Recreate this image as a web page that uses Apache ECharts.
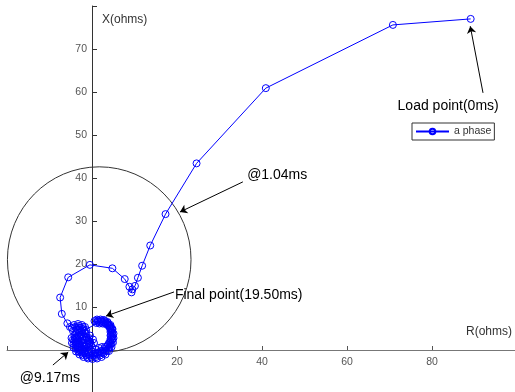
<!DOCTYPE html>
<html>
<head>
<meta charset="utf-8">
<script src="https://cdn.jsdelivr.net/npm/echarts@6/dist/echarts.min.js"></script>
<style>
  html, body { margin: 0; padding: 0; background: #fff; }
  #main { width: 515px; height: 392px; }
</style>
</head>
<body>
<div id="main"></div>
<script>
// impedance trajectory, a phase (R, X in ohms)
var resistance = [
  // load point down to the circle
  89.1, 70.8, 40.9, 24.6, 17.3, 13.7, 11.8, 10.8, 10.1, 9.5, 9.3, 8.8, 7.7, 4.8, -0.5, -5.6, -7.5, -7.1, -5.8,
  // small curl
  -5.18, -4.24, -3.29, -2.35, -1.65, -1.41, -1.65, -2.35, -3.06, -3.29, -2.82, -2.12,
  -1.88, -2.59, -3.53, -4.0, -4.71, -3.06, -2.12,
  // inner loop
  -1.41, -1.88, -1.18, -0.47, -0.71, 0.24, 0.47, -0.47, -0.71, 0, -0.94, -0.94,
  -1.41, -1.65, -2.12, -2.35, -3.29, -3.06, -2.59, -2.82, -3.76, -3.76, -4.12,
  -4.47, -3.76, -3.06, -2.35, -1.65, -0.94, -0.24, -1.18, -1.88, -2.82, -3.29, -2.59, -1.41, -0.71, -2.12,
  // first lap of the ring
  -4.47, -4.0, -4.35, -3.88, -3.88, -3.53, -3.18, -2.82, -2.24, -1.88,
  -1.18, -0.82, -0.12, 0.24, 0.94, 1.18, 1.88, 2.0, 2.71, 2.82,
  3.53, 3.53, 4.12, 4.0, 4.59, 4.47, 4.82, 4.47, 4.82, 4.47,
  4.71, 4.24, 4.35, 3.76, 3.76, 3.18, 3.06, 2.35, 2.24, 1.65, 1.41,
  // last lap up to the final point
  -4.82, -3.53, -4.12, -4.71, -3.29, -3.88, -4.35, -2.94, -3.29, -3.76, -2.35, -2.47,
  -2.94, -1.65, -1.41, -2.0, -0.82, -0.47, -0.94, 0, 0.59, 0.12, 0.82, 1.53,
  1.18, 1.65, 2.35, 2.24, 2.35, 3.18, 3.18, 3.06, 3.88, 4.0, 3.76, 4.35,
  4.59, 4.24, 4.71, 4.94, 4.35, 4.71, 5.06, 4.35, 4.71, 5.06, 4.35, 4.59,
  4.82, 4.24, 4.12, 4.35, 3.76, 3.53, 3.65, 3.18, 2.82, 2.82, 2.47, 2.0,
  2.0, 1.76, 1.29, 1.18, 1.06, 0.59
];
var reactance = [
  77.0, 75.6, 60.9, 43.4, 31.6, 24.3, 19.6, 16.8, 14.9, 14.1, 13.4, 14.7, 16.5, 19.0, 19.8, 16.9, 12.2, 8.4, 6.2,
  5.35, 5.81, 6.05, 5.81, 5.35, 4.65, 3.95, 3.72, 3.95, 4.65, 5.12, 4.88,
  4.42, 4.42, 4.88, 5.35, 5.12, 5.58, 5.35,
  3.95, 3.02, 2.79, 3.37, 2.09, 2.44, 1.63, 1.63, 1.40, 0.70, 0.70, -0.12,
  0.93, 0.23, -0.12, 1.16, 0.70, 1.40, 2.09, 2.79, 1.86, 2.91, 3.49,
  4.42, 3.95, 3.26, 2.56, 2.33, 2.33, 1.16, 1.16, 0.70, 0.93, 2.09, 3.49, 3.02, 2.79, 1.63,
  2.44, 2.79, 1.40, 1.63, 0.35, 0.70, -0.47, -0.12, -1.16, -0.70,
  -1.63, -0.93, -1.74, -0.93, -1.63, -0.70, -1.28, -0.23, -0.81, 0.23,
  -0.23, 0.81, 0.58, 1.63, 1.51, 2.56, 2.56, 3.49, 3.60, 4.42,
  4.65, 5.23, 5.47, 5.93, 6.28, 6.40, 6.74, 6.51, 6.86, 6.51, 6.86,
  2.79, 2.79, 2.21, 1.63, 1.63, 1.16, 0.58, 0.81, 0.12, -0.35, 0.12, -0.58,
  -1.05, -0.35, -1.16, -1.63, -0.47, -1.28, -1.98, -0.35, -1.16, -2.09, 0.12, -0.93,
  -1.98, 0.47, -0.58, -1.63, 0.70, -0.12, -1.05, 0.70, 0.47, -0.23, 1.16, 1.28,
  0.70, 1.86, 2.21, 1.74, 2.56, 3.14, 2.79, 3.37, 4.07, 3.84, 4.19, 5.0,
  4.88, 5.0, 5.58, 5.81, 5.70, 6.16, 6.51, 6.05, 6.51, 6.98, 6.16, 6.63,
  7.09, 6.16, 6.63, 7.09, 6.28, 6.74
];

// relay characteristic: centre R, centre X, radius
var mhoCircle = [1.7, 21.0, 21.6];

// annotations
var noteText = ['Load point(0ms)', '@1.04ms', 'Final point(19.50ms)', '@9.17ms'];
var notePos = [[83.8, 56.7], [36.5, 40.7], [19.5, 12.8], [-9.9, -6.5]];
var noteAlign = ['center', 'left', 'left', 'center'];
var arrowFrom = [[92.0, 59.8], [35.5, 39.1], [19.3, 13.5], [-9.2, -3.5]];
var arrowTo = [[89.0, 75.3], [20.7, 32.1], [3.3, 7.9], [-5.6, -0.5]];

var font = '"Liberation Sans", Arial, sans-serif';

var chart = echarts.init(document.getElementById('main'));

var traj = [];
for (var i = 0; i < resistance.length; i++) {
  traj.push([resistance[i], reactance[i]]);
}
var arrows = [];
for (var k = 0; k < arrowFrom.length; k++) {
  arrows.push([{ coord: arrowFrom[k] }, { coord: arrowTo[k] }]);
}

var option = {
  animation: false,
  grid: { left: 7, right: -2, top: 6, bottom: -1, outerBoundsMode: 'none' },
  legend: {
    data: ['a phase'],
    left: 412,
    top: 123,
    itemWidth: 33,
    itemHeight: 7,
    padding: [3, 3, 3, 3],
    borderColor: '#333',
    borderWidth: 1,
    textStyle: { fontSize: 10.5, color: '#333', fontFamily: font }
  },
  xAxis: {
    type: 'value',
    min: -20,
    max: 100,
    interval: 20,
    name: 'R(ohms)',
    nameLocation: 'end',
    nameGap: -5,
    nameTextStyle: { color: '#333', fontSize: 12, fontFamily: font, align: 'right', verticalAlign: 'bottom', padding: [0, 0, 12, 0] },
    axisLine: { onZero: false, lineStyle: { color: '#777', width: 1 } },
    axisTick: { inside: true, length: 4, lineStyle: { color: '#555' } },
    axisLabel: {
      color: '#555', fontSize: 10.5, fontFamily: font, margin: 7,
      formatter: function (v) { return (v > 0 && v < 100) ? v : ''; }
    },
    splitLine: { show: false }
  },
  yAxis: {
    type: 'value',
    min: -10,
    max: 80,
    interval: 10,
    name: 'X(ohms)',
    nameLocation: 'end',
    nameGap: -14,
    nameTextStyle: { color: '#333', fontSize: 12, fontFamily: font, align: 'left', verticalAlign: 'middle', padding: [0, 0, 0, 10] },
    axisLine: { onZero: false, lineStyle: { color: '#333', width: 1 } },
    axisTick: { inside: true, length: 5, lineStyle: { color: '#333' } },
    axisLabel: {
      color: '#555', fontSize: 10.5, fontFamily: font, margin: 5,
      formatter: function (v) { return (v > 0 && v < 80) ? v : ''; }
    },
    splitLine: { show: false }
  },
  series: [
    {
      type: 'custom',
      name: 'mho',
      silent: true,
      data: [mhoCircle],
      encode: { x: 0, y: 1 },
      renderItem: function (params, api) {
        var c = api.coord([api.value(0), api.value(1)]);
        var s = api.size([api.value(2), api.value(2)]);
        return {
          type: 'ellipse',
          shape: { cx: c[0], cy: c[1], rx: s[0], ry: s[1] },
          style: { fill: 'none', stroke: '#333', lineWidth: 1 }
        };
      }
    },
    {
      type: 'line',
      name: 'a phase',
      data: traj,
      symbol: 'circle',
      symbolSize: 7,
      showAllSymbol: true,
      color: '#0000ff',
      lineStyle: { color: '#0000ff', width: 1 },
      itemStyle: { color: 'rgba(0,0,0,0)', borderColor: '#0000ff', borderWidth: 1 },
      z: 3,
      markLine: {
        silent: true,
        symbol: ['none', 'arrow'],
        symbolSize: 7,
        lineStyle: { color: '#000', width: 1, type: 'solid' },
        label: { show: false },
        data: arrows
      }
    },
    {
      type: 'custom',
      name: 'notes',
      silent: true,
      data: notePos,
      encode: { x: 0, y: 1 },
      renderItem: function (params, api) {
        var p = api.coord([api.value(0), api.value(1)]);
        return {
          type: 'text',
          x: p[0],
          y: p[1],
          style: {
            text: noteText[params.dataIndex],
            align: noteAlign[params.dataIndex],
            verticalAlign: 'middle',
            fill: '#000',
            fontSize: 14,
            fontFamily: font
          }
        };
      }
    }
  ]
};

chart.setOption(option);

// put both axes through the origin (labels follow the axis lines)
var origin = chart.convertToPixel({ gridIndex: 0 }, [0, 0]);
var corner = chart.convertToPixel({ gridIndex: 0 }, [-20, -10]);
chart.setOption({
  xAxis: { offset: origin[1] - corner[1] },
  yAxis: { offset: corner[0] - origin[0] }
});
</script>
</body>
</html>
